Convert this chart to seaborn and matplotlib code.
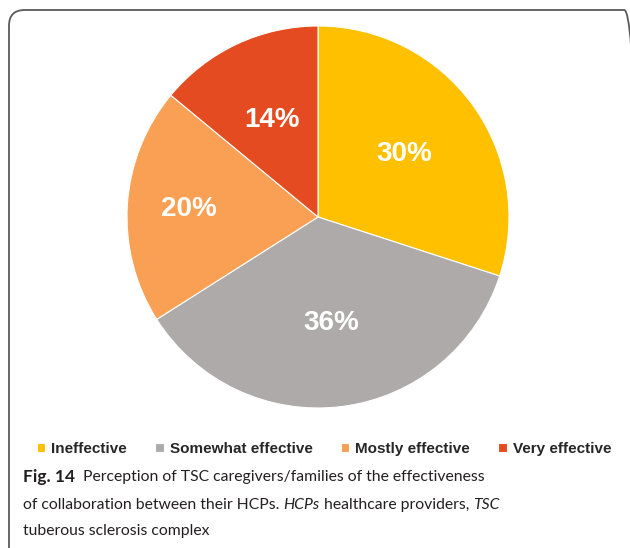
import numpy as np
import seaborn as sns
import matplotlib.pyplot as plt
from matplotlib.patches import FancyBboxPatch

# Survey answers (percent)
categories = ["Ineffective", "Somewhat effective", "Mostly effective", "Very effective"]
shares = [30, 36, 20, 14]
colors = ["#FFC000", "#AEAAAA", "#F9A055", "#E54B20"]

caption_lines = [
    [("Fig. 14", "bold", "normal"), ("  Perception of TSC caregivers/families of the effectiveness", "normal", "normal")],
    [("of collaboration between their HCPs. ", "normal", "normal"), ("HCPs", "normal", "italic"),
     (" healthcare providers, ", "normal", "normal"), ("TSC", "normal", "italic")],
    [("tuberous sclerosis complex", "normal", "normal")],
]

sns.set_theme(style="white")
plt.rcParams["font.family"] = ["Liberation Sans", "DejaVu Sans"]

fig = plt.figure(figsize=(6.3, 5.48), dpi=100)
W, H = 630, 548

# rounded frame around the figure
frame = FancyBboxPatch((9 / W, -0.1), (640 - 9) / W, 1.1 - 10 / H,
                       boxstyle="round,pad=0,rounding_size=0.025",
                       transform=fig.transFigure, fill=False,
                       edgecolor="#5a5a5a", linewidth=1.3, mutation_aspect=W / H)
fig.patches.append(frame)

ax = fig.add_axes([(318 - 191) / W, (548 - 408) / H, 382 / W, 382 / H])
wedges, texts, autotexts = ax.pie(
    shares, colors=colors, startangle=90, counterclock=False,
    autopct="%d%%", pctdistance=0.56,
    wedgeprops=dict(edgecolor="white", linewidth=0.8),
    textprops=dict(color="white", fontsize=20, fontweight="bold"),
)
# the 20% label sits further out in the original
for w, t, s in zip(wedges, autotexts, shares):
    if s == 20:
        ang = np.deg2rad((w.theta1 + w.theta2) / 2)
        t.set_position((0.68 * np.cos(ang), 0.68 * np.sin(ang)))
ax.set_xlim(-1, 1)
ax.set_ylim(-1, 1)
ax.set_aspect("equal")

leg = fig.legend(wedges, categories, ncol=4, loc="center",
                 bbox_to_anchor=(324 / W, 1 - 449 / H), frameon=False,
                 handlelength=0.55, handleheight=0.55, handletextpad=0.4,
                 columnspacing=1.85, prop=dict(weight="bold", size=11))

# caption with mixed bold / italic pieces
fig.canvas.draw()
renderer = fig.canvas.get_renderer()
line_y = [477, 505, 531]
for pieces, y in zip(caption_lines, line_y):
    x = 23
    for txt, weight, style in pieces:
        size = 12.5 if weight == "bold" else 11.3
        t = fig.text(x / W, 1 - y / H, txt, fontsize=size, fontweight=weight,
                     fontstyle=style, family=["Lato", "DejaVu Sans"],
                     color="#231f20", va="center", ha="left")
        bb = t.get_window_extent(renderer)
        x = bb.x1

fig.savefig("out.png", dpi=100)
